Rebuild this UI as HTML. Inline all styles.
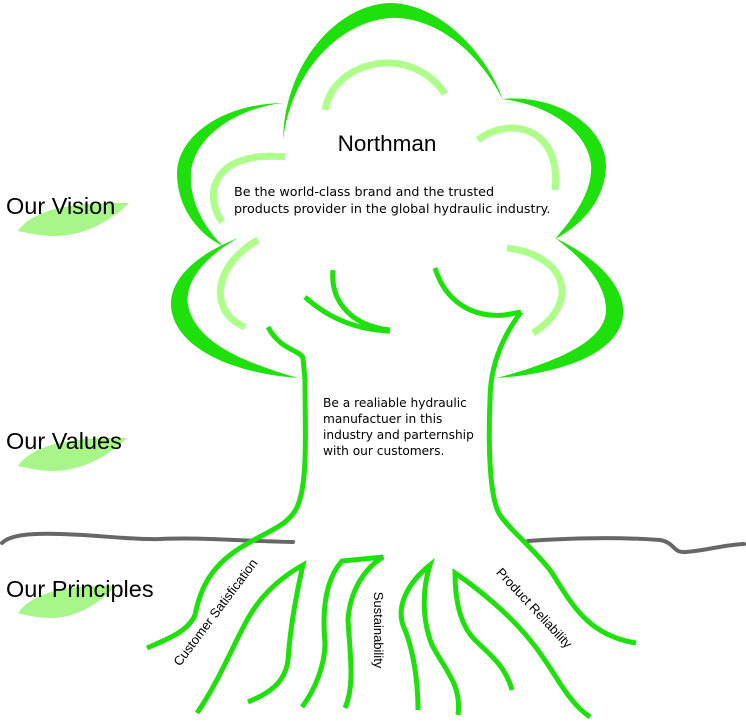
<!DOCTYPE html>
<html><head><meta charset="utf-8"><style>
html,body{margin:0;padding:0;background:#fff;width:746px;height:723px;overflow:hidden}
svg{display:block}
</style></head><body>
<svg width="746" height="723" viewBox="0 0 746 723" xmlns="http://www.w3.org/2000/svg">
<g fill="#a8f58a">
<path d="M18,231 C 32,212 62,202 129,203 C 110,222 82,236 55,236 C 40,236 28,233 18,231 Z"/>
<path d="M18,466 C 32,447 62,437 127,438 C 108,457 80,471 53,471 C 40,471 28,468 18,466 Z"/>
<path d="M18,613 C 32,594 60,585 116,586 C 100,603 76,618 52,618 C 40,618 28,616 18,613 Z"/>
</g>
<g fill="none" stroke="#676767" stroke-width="4" stroke-linecap="round">
<path d="M2,543 C 10,535 30,533 60,534 C 100,535 130,540 160,539 C 200,537 240,541 293,542"/>
<path d="M528,541 C 570,538 620,537 660,540 C 676,543 672,553 686,552 C 710,550 722,545 744,544"/>
</g>
<g fill="#1ee00a">
<path d="M283,140 C 285,60 340,4 390,3 C 440,3 488,55 503,100 C 475,45 430,16 390,18 C 340,22 292,70 283,140 Z"/>
<path d="M283,103 C 220,104 176,138 177,175 C 178,210 200,235 223,246 C 203,226 189,200 191,172 C 195,135 238,108 283,103 Z"/>
<path d="M502,99 C 560,94 606,128 606,166 C 605,200 582,225 555,239 C 576,215 593,190 591,164 C 586,128 545,104 502,99 Z"/>
<path d="M238,238 C 195,255 169,280 171,307 C 175,347 230,373 298,378 C 250,364 196,345 188,305 C 184,280 208,255 238,238 Z"/>
<path d="M555,238 C 602,260 626,290 623,316 C 619,350 570,373 497,378 C 560,361 606,340 606,310 C 606,285 585,260 555,238 Z"/>
</g>
<g fill="none" stroke="#adff8a" stroke-width="7" stroke-linecap="butt">
<path d="M325,110 C 330,80 360,62 390,63 C 415,64 435,78 445,94"/>
<path d="M222,222 C 203,195 212,150 285,157"/>
<path d="M478,140 C 510,115 562,128 555,190"/>
<path d="M258,240 C 213,265 208,312 245,327"/>
<path d="M507,248 C 566,255 582,302 533,333"/>
</g>
<g fill="none" stroke="#1ee00a" stroke-width="5" stroke-linejoin="miter">
<path d="M333,270 C 330,302 352,326 390,330"/>
<path d="M305,297 C 330,320 360,330 390,331"/>
<path d="M435,268 C 445,300 470,318 505,315 L521,312"/>
<path d="M268,327 C 280,350 300,350 303,358 L305,380 C 305,430 308,480 298,505 C 290,525 270,530 245,545 C 210,565 200,590 195,615 C 188,632 165,640 147,648"/>
<path d="M521,312 C 500,340 490,370 490,400 C 488,450 490,500 500,515 C 510,530 530,545 550,570 C 570,600 585,635 636,643"/>
<path d="M197,713 C 220,680 235,640 250,615 C 265,590 285,575 303,565 C 295,600 290,630 288,660 C 285,685 265,695 248,702"/>
<path d="M302,707 C 315,690 325,665 325,643 C 322,610 325,580 342,561 L383,557 C 365,568 350,590 348,620 C 350,655 355,685 345,708"/>
<path d="M418,710 C 418,680 413,650 405,630 C 395,610 405,585 430,565 C 422,590 422,620 432,645 C 445,670 462,685 458,715"/>
<path d="M512,690 C 505,665 490,655 475,640 C 460,625 455,600 455,573 C 480,590 510,615 530,640 C 555,670 565,700 590,717"/>
</g>
<g font-family="Liberation Sans, sans-serif" fill="#000">
<text x="387" y="151" font-size="22.5" text-anchor="middle">Northman</text>
<text x="6" y="214" font-size="23.5">Our Vision</text>
<text x="6" y="449" font-size="23.5">Our Values</text>
<text x="6" y="597" font-size="23.5">Our Principles</text>
</g>
<g font-family="DejaVu Sans, sans-serif" font-size="12.7" fill="#000">
<text x="234" y="196">Be the world-class brand and the trusted</text>
<text x="234" y="213">products provider in the global hydraulic industry.</text>
</g>
<g font-family="DejaVu Sans, sans-serif" font-size="12.2" fill="#000">
<text x="323" y="407">Be a realiable hydraulic</text>
<text x="323" y="423">manufactuer in this</text>
<text x="323" y="439">industry and parternship</text>
<text x="323" y="455">with our customers.</text>
</g>
<g font-family="Liberation Sans, sans-serif" font-size="13" fill="#000" text-anchor="middle">
<text transform="translate(219,615) rotate(-53)">Customer Satisfication</text>
<text transform="translate(374,630) rotate(90)">Sustainability</text>
<text transform="translate(531,611) rotate(47)">Product Reliability</text>
</g>
</svg>
</body></html>
